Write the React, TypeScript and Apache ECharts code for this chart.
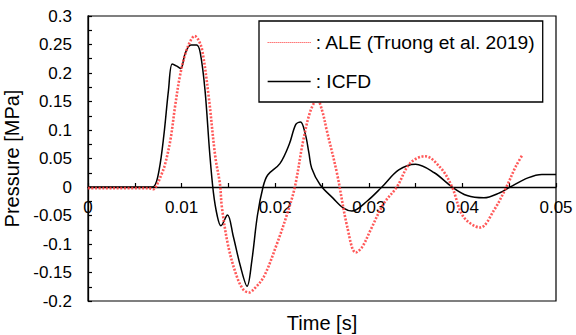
import React, { useEffect, useRef } from "react";
import * as echarts from "echarts";

const icfdTime = [0, 0.0065, 0.0071, 0.0076, 0.0081, 0.0086, 0.009, 0.0095, 0.0099, 0.0104, 0.011, 0.0116, 0.012, 0.0125, 0.013, 0.0134, 0.0138, 0.0142, 0.0149, 0.0155, 0.0163, 0.017, 0.0175, 0.0181, 0.0187, 0.0192, 0.0205, 0.0215, 0.0222, 0.0227, 0.0232, 0.0236, 0.0239, 0.0248, 0.0262, 0.0273, 0.0282, 0.0298, 0.0314, 0.0332, 0.035, 0.037, 0.0389, 0.0405, 0.0423, 0.044, 0.0451, 0.047, 0.0485, 0.05];
const icfdPressure = [0, 0, 0.002, 0.03, 0.09, 0.17, 0.216, 0.212, 0.208, 0.235, 0.249, 0.249, 0.235, 0.17, 0.06, -0.01, -0.05, -0.068, -0.049, -0.085, -0.14, -0.174, -0.13, -0.05, 0, 0.021, 0.041, 0.075, 0.11, 0.114, 0.094, 0.06, 0.033, 0.004, -0.02, -0.037, -0.042, -0.025, 0, 0.03, 0.04, 0.025, 0, -0.015, -0.019, -0.01, 0, 0.016, 0.022, 0.022];

const aleTime = [0, 0.0065, 0.007, 0.0074, 0.0078, 0.0082, 0.0088, 0.0093, 0.0098, 0.0104, 0.011, 0.0114, 0.0118, 0.0122, 0.0129, 0.0136, 0.0141, 0.0143, 0.015, 0.0159, 0.0166, 0.0172, 0.0178, 0.0188, 0.0202, 0.0213, 0.0221, 0.023, 0.0238, 0.0245, 0.025, 0.0255, 0.0266, 0.0277, 0.0286, 0.0293, 0.0302, 0.0316, 0.033, 0.0344, 0.036, 0.0377, 0.0389, 0.0401, 0.0419, 0.0434, 0.0447, 0.0457, 0.0464];
const alePressure = [-0.002, -0.002, -0.004, 0.005, 0.02, 0.038, 0.082, 0.141, 0.193, 0.234, 0.258, 0.265, 0.258, 0.24, 0.158, 0.053, 0.005, -0.035, -0.105, -0.157, -0.18, -0.185, -0.178, -0.157, -0.099, -0.046, 0, 0.082, 0.135, 0.153, 0.135, 0.1, 0.024, -0.07, -0.115, -0.105, -0.075, -0.029, 0, 0.0415, 0.054, 0.033, 0, -0.052, -0.071, -0.04, 0, 0.036, 0.056];

const seriesNames = ["ALE (Truong et al. 2019)", "ICFD"];
const xTitle = "Time [s]";
const yTitle = "Pressure [MPa]";

const fmt = (v: number, step: number) => {
  const idx = Math.round(v / step);
  if (idx % 2 !== 0) return "";
  return String(parseFloat((idx * step).toFixed(4)));
};

export default function App() {
  const ref = useRef<HTMLDivElement>(null);
  useEffect(() => {
    if (!ref.current) return;
    const chart = echarts.init(ref.current, null, { renderer: "svg" });
    const font = "Liberation Sans, Arial, sans-serif";
    chart.setOption({
      animation: false,
      backgroundColor: "#fff",
      grid: {
        left: 88,
        right: 20,
        top: 16,
        bottom: 34,
        show: true,
        borderColor: "#000",
        borderWidth: 1.2,
        backgroundColor: "transparent",
        containLabel: false,
        outerBoundsMode: "none",
      },
      legend: {
        orient: "vertical",
        left: 259,
        top: 21,
        padding: [12, 7, 11, 8],
        itemGap: 20,
        itemWidth: 43,
        itemHeight: 14,
        borderColor: "#000",
        borderWidth: 1.3,
        backgroundColor: "#fff",
        formatter: (n: string) => ": " + n,
        textStyle: { fontFamily: font, fontSize: 19.2, color: "#000" },
        itemStyle: { opacity: 0 },
        data: [
          { name: seriesNames[0], itemStyle: { opacity: 0 }, lineStyle: { color: "#ff3030", width: 1, type: [1, 1] } },
          { name: seriesNames[1], itemStyle: { opacity: 0 }, lineStyle: { color: "#000", width: 1.3, type: "solid" } },
        ],
      },
      xAxis: {
        type: "value",
        min: 0,
        max: 0.05,
        interval: 0.005,
        name: xTitle,
        nameLocation: "middle",
        nameGap: 126,
        nameTextStyle: { fontFamily: font, fontSize: 20, color: "#000" },
        offset: -114,
        axisLine: { onZero: false, lineStyle: { color: "#000", width: 1.3 } },
        axisTick: { inside: true, length: 4, lineStyle: { color: "#000", width: 1.2 } },
        axisLabel: {
          fontFamily: font,
          fontSize: 17,
          color: "#000",
          margin: 12,
          formatter: (v: number) => fmt(v, 0.005),
        },
        splitLine: { show: false },
      },
      yAxis: {
        type: "value",
        min: -0.2,
        max: 0.3,
        interval: 0.025,
        name: yTitle,
        nameLocation: "middle",
        nameGap: 57,
        nameTextStyle: { fontFamily: font, fontSize: 20, color: "#000" },
        axisLine: { show: true, lineStyle: { color: "#000", width: 1.3 } },
        axisTick: { show: true, inside: true, length: 4, lineStyle: { color: "#000", width: 1.2 } },
        axisLabel: {
          fontFamily: font,
          fontSize: 17,
          color: "#000",
          margin: 16,
          formatter: (v: number) => fmt(v, 0.025),
        },
        splitLine: { show: false },
      },
      series: [
        {
          name: seriesNames[0],
          type: "line",
          data: aleTime.map((t, i) => [t, alePressure[i]]),
          symbol: "none",
          smooth: 0.35,
          lineStyle: { color: "rgba(255,60,60,0.85)", width: 2.6, type: [2, 1.6] },
          itemStyle: { color: "#ff3030" },
          z: 3,
        },
        {
          name: seriesNames[1],
          type: "line",
          data: icfdTime.map((t, i) => [t, icfdPressure[i]]),
          symbol: "none",
          smooth: 0.35,
          lineStyle: { color: "#000", width: 1.5 },
          itemStyle: { color: "#000" },
          z: 2,
        },
      ],
    });
    return () => chart.dispose();
  }, []);
  return <div ref={ref} style={{ width: 576, height: 335, position: "absolute", left: 0, top: 0 }} />;
}
